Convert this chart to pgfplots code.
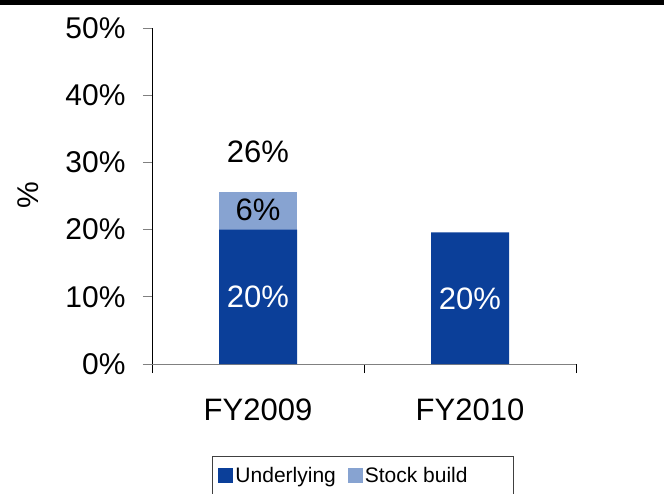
\documentclass[border=0pt]{standalone}
\usepackage{fontspec}
\setmainfont{Liberation Sans}
\usepackage{pgfplots}
\pgfplotsset{compat=1.18}
\definecolor{under}{HTML}{0B3F99}
\definecolor{stock}{HTML}{87A3D1}
\definecolor{axgray}{HTML}{808080}

\begin{document}
\begin{tikzpicture}[x=1pt,y=1pt]
\path[use as bounding box] (0,0) rectangle (664,493);
\fill[black] (0,488) rectangle (664,493);
\begin{axis}[
    at={(152pt,129pt)}, anchor=south west,
    scale only axis, width=424pt, height=336pt,
    ybar stacked, bar width=78pt,
    xmin=-0.5, xmax=1.5, ymin=0, ymax=50,
    axis x line*=bottom, axis y line*=left,
    x axis line style={draw=axgray, line width=1pt, shorten <=-9pt},
    y axis line style={draw=black, line width=0.8pt},
    xtick={-0.5,0.5,1.5}, xticklabels={FY2009,FY2010},
    x tick label as interval,
    ytick={0,10,20,30,40,50},
    yticklabels={0\%,10\%,20\%,30\%,40\%,50\%},
    tick align=outside, major tick length=9pt,
    xtick style={draw=black, line width=0.8pt},
    ytick style={draw=axgray, line width=0.8pt},
    ticklabel style={font=\fontsize{30}{36}\selectfont},
    xticklabel style={font=\fontsize{31}{36}\selectfont, yshift=-22pt},
    yticklabel style={xshift=-14pt},
    ylabel={\%}, ylabel style={font=\fontsize{30}{36}\selectfont,
        at={(axis description cs:-0.292,0.503)}, anchor=center},
    legend columns=2,
    legend cell align=left,
    legend image code/.code={\fill[#1] (0pt,-7pt) rectangle (15pt,8pt);},
    legend style={at={(rel axis cs:0.1415,-0.274)}, anchor=north west,
        draw=black!75, line width=1pt, inner xsep=6pt, inner ysep=9pt,
        font=\fontsize{21}{24}\selectfont,
        /tikz/every even column/.append style={column sep=10pt}},
]
\addplot[fill=under, draw=none] coordinates {(0,20) (1,19.6)};
\addlegendentry{Underlying}
\addplot[fill=stock, draw=none] coordinates {(0,5.6) (1,0)};
\addlegendentry{Stock build\hspace*{38pt}\mbox{}}
\end{axis}
\begin{axis}[
    at={(152pt,129pt)}, anchor=south west,
    scale only axis, width=424pt, height=336pt,
    xmin=-0.5, xmax=1.5, ymin=0, ymax=50,
    hide axis,
    nodes near coords, point meta=explicit symbolic,
    every node near coord/.append style={anchor=center,
        font=\fontsize{31}{36}\selectfont},
]
\addplot[only marks, mark options={draw=none, fill=none},
    every node near coord/.append style={text=white}]
    coordinates {(0,10.0) [20\%] (1,9.7) [20\%]};
\addplot[only marks, mark options={draw=none, fill=none},
    every node near coord/.append style={text=black}]
    coordinates {(0,22.9) [6\%] (0,31.5) [26\%]};
\end{axis}
\end{tikzpicture}
\end{document}
